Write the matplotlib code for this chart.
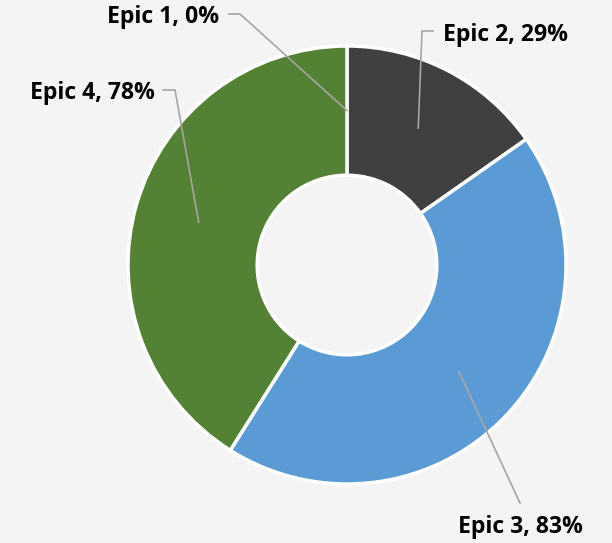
import numpy as np
import matplotlib.pyplot as plt

labels = ['Epic 1', 'Epic 2', 'Epic 3', 'Epic 4']
values = [0, 29, 83, 78]
colors = ['#a5a5a5', '#404040', '#5b9bd5', '#548235']

W, H = 612, 543
# label text anchor (pixel coords, y down), alignment
label_pos = [(219, 17, 'right'), (443, 35, 'left'), (520, 527, 'center'), (155, 93, 'right')]
elbows = [(240, 14), (422, 31), None, (175, 90)]
line_start = [(229, 14), (433, 31), (520, 503), (163, 90)]

fig = plt.figure(figsize=(W / 100, H / 100), dpi=100)
fig.patch.set_facecolor('#f4f4f4')
ax = fig.add_axes([0, 0, 1, 1])
ax.set_facecolor('#f4f4f4')

cx, cy = 347, H - 265
R = 219
width = 0.59
wedges, _ = ax.pie(values, colors=colors, startangle=90, counterclock=False,
                   radius=R, center=(cx, cy),
                   wedgeprops=dict(width=R * width, edgecolor='white', linewidth=2.5))
ax.set_xlim(0, W)
ax.set_ylim(0, H)
ax.set_aspect('equal')
ax.axis('off')

# leader lines end at the middle of each ring segment
rmid = R * (1 - width / 2)
for i, w in enumerate(wedges):
    ang = np.deg2rad((w.theta1 + w.theta2) / 2)
    ax_x = cx + rmid * np.cos(ang)
    ax_y = cy + rmid * np.sin(ang)
    pts = [line_start[i]]
    if elbows[i] is not None:
        pts.append(elbows[i])
    xs = [p[0] for p in pts] + [ax_x]
    ys = [H - p[1] for p in pts] + [ax_y]
    ax.plot(xs, ys, color='#a5a5a5', lw=1.2, zorder=5)
    tx, ty, ha = label_pos[i]
    ax.text(tx, H - ty, f'{labels[i]}, {values[i]}%', ha=ha, va='center',
            fontsize=16.6, fontweight='bold', family='Open Sans', color='black')

fig.savefig('out.png', dpi=100, facecolor=fig.get_facecolor())
